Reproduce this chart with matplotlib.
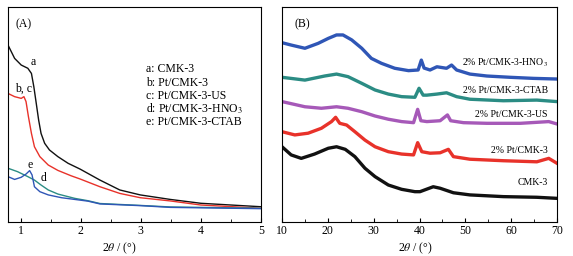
import matplotlib
matplotlib.use("Agg")
import matplotlib.pyplot as plt
from matplotlib.ticker import MultipleLocator

plt.rcParams['font.family'] = ['Liberation Serif', 'DejaVu Serif']
plt.rcParams['mathtext.fontset'] = 'stix'

# ---------- Panel A data (low-angle XRD) ----------
a_x = [0.79, 0.90, 1.01, 1.12, 1.18, 1.22, 1.26, 1.30, 1.34, 1.40, 1.48, 1.62, 1.79, 1.99, 2.32, 2.65, 2.99, 3.49, 4.0, 5.0]
a_y = [82.3, 76.1, 73.0, 71.5, 69.1, 62.9, 55.2, 47.4, 41.2, 36.6, 33.5, 30.4, 27.3, 24.6, 19.5, 14.9, 12.6, 10.5, 8.7, 7.1]

b_x = [0.79, 0.90, 1.01, 1.055, 1.09, 1.13, 1.18, 1.23, 1.32, 1.46, 1.62, 1.84, 1.99, 2.32, 2.65, 2.99, 3.49, 4.0, 5.0]
b_y = [59.8, 58.3, 57.5, 58.3, 56.0, 49.0, 41.2, 35.0, 30.4, 26.5, 24.0, 21.5, 20.0, 16.4, 13.3, 11.3, 9.8, 7.9, 6.4]

d_x = [0.79, 0.90, 1.01, 1.09, 1.15, 1.19, 1.23, 1.32, 1.46, 1.68, 2.12, 2.32, 3.0, 3.49, 4.0, 5.0]
d_y = [21.1, 19.8, 20.8, 22.3, 23.9, 21.9, 16.4, 14.1, 12.6, 11.3, 9.7, 8.4, 7.6, 6.8, 6.6, 6.2]

e_x = [0.79, 0.95, 1.12, 1.23, 1.34, 1.46, 1.62, 1.90, 2.12, 2.32, 3.0, 3.49, 4.0, 5.0]
e_y = [25.0, 23.4, 21.1, 19.5, 17.2, 14.9, 13.0, 11.0, 9.9, 8.6, 7.7, 7.0, 6.8, 6.4]

legend_a = ["a: CMK-3", "b: Pt/CMK-3", "c: Pt/CMK-3-US",
            "d: Pt/CMK-3-HNO$_3$", "e: Pt/CMK-3-CTAB"]

# ---------- Panel B data (wide-angle XRD, offset) ----------
hno3_x = [10, 12, 15, 17.9, 20.1, 21.9, 23.3, 25.2, 27.4, 29.5, 31.7, 34.6, 37.6, 39.7, 40.4, 41.0, 42.3, 43.8, 45.9, 47.0, 48.1, 51, 54.7, 59.8, 64.9, 70]
hno3_y = [83.4, 82.3, 80.8, 83.1, 85.4, 87.0, 87.0, 84.7, 80.8, 76.1, 73.8, 71.5, 70.4, 70.7, 75.3, 71.6, 70.7, 72.2, 71.5, 73.0, 70.7, 68.8, 67.9, 67.3, 66.8, 66.5]

ctab_x = [10, 15, 19.3, 21.9, 24.4, 27.4, 30.3, 33.2, 36.1, 39.0, 39.9, 40.8, 41.6, 43.8, 45.9, 48.1, 51, 58.3, 65.6, 70]
ctab_y = [67.3, 66.0, 67.9, 68.8, 67.6, 64.5, 61.4, 59.5, 58.3, 58.0, 62.2, 59.0, 59.0, 59.5, 60.1, 58.3, 57.1, 56.4, 56.7, 56.0]

us_x = [10, 15, 18.6, 21.9, 24.4, 27.4, 30.3, 33.2, 36.1, 38.7, 39.6, 40.3, 41.6, 44.5, 46.1, 46.8, 49.6, 54.7, 62, 68.2, 70]
us_y = [56.0, 53.6, 52.9, 53.6, 52.9, 51.3, 49.3, 47.8, 46.7, 46.2, 52.4, 47.1, 46.7, 47.1, 49.8, 47.1, 46.2, 45.9, 45.9, 46.7, 45.6]

pt_x = [10, 12.8, 15.7, 18.6, 20.8, 21.7, 22.6, 24.1, 25.9, 28.1, 30.3, 33.2, 36.1, 38.7, 39.6, 40.5, 42.3, 44.5, 46.3, 47.4, 51, 58.3, 65.6, 68.2, 70]
pt_y = [42.0, 40.5, 41.3, 43.6, 46.7, 48.7, 45.9, 45.1, 42.0, 38.1, 35.0, 32.7, 31.6, 31.2, 36.9, 32.7, 32.0, 32.2, 33.8, 30.4, 29.2, 28.5, 28.0, 29.6, 27.3]

cmk_x = [10, 12, 14.2, 17.1, 20.1, 21.9, 23.8, 25.9, 28.1, 30.3, 33.2, 36.1, 39.0, 40.1, 43.0, 44.5, 47.4, 51, 58.3, 65.6, 70]
cmk_y = [35.0, 31.2, 29.6, 31.6, 34.3, 35.0, 33.8, 30.4, 25.0, 21.1, 17.2, 15.2, 14.1, 14.1, 16.4, 15.7, 13.6, 12.6, 11.8, 11.5, 11.0]

labels_b = ["2% Pt/CMK-3-HNO$_3$", "2% Pt/CMK-3-CTAB", "2% Pt/CMK-3-US",
            "2% Pt/CMK-3", "CMK-3"]

fig = plt.figure(figsize=(5.73, 2.56), dpi=100)
axA = fig.add_axes([8/573, 34/256, 253/573, 215/256])
axB = fig.add_axes([282/573, 34/256, 275/573, 215/256])

fs = 8.5
BLACK = '#111111'
RED = '#e8322a'
BLUE = '#2f56b6'
TEAL = '#2b8c84'
PURPLE = '#a659b8'

# Panel A
axA.plot(a_x, a_y, color=BLACK, lw=1.0)
axA.plot(b_x, b_y, color=RED, lw=1.0)
axA.plot(e_x, e_y, color=TEAL, lw=1.0)
axA.plot(d_x, d_y, color=BLUE, lw=1.0)
axA.set_xlim(0.79, 5)
axA.set_ylim(0, 100)
axA.set_yticks([])
axA.xaxis.set_major_locator(MultipleLocator(1))
axA.xaxis.set_minor_locator(MultipleLocator(0.5))
axA.tick_params(axis='x', which='major', direction='in', length=3, labelsize=fs, pad=2)
axA.tick_params(axis='x', which='minor', direction='in', length=2)
axA.text(0.03, 0.92, "(A)", transform=axA.transAxes, fontsize=fs, va='center', ha='left')
axA.text(1.205, 74.3, "a", fontsize=fs, ha='center', va='center')
axA.text(1.05, 61.8, "b, c", fontsize=fs, ha='center', va='center')
axA.text(1.15, 26.6, "e", fontsize=fs, ha='center', va='center')
axA.text(1.38, 20.3, "d", fontsize=fs, ha='center', va='center')
for i, t in enumerate(legend_a):
    axA.text(0.547, 0.71 - i * 0.0615, t, transform=axA.transAxes, fontsize=fs, ha='left', va='center')
axA.set_xlabel(r"2$\theta$ / (°)", fontsize=fs)
axA.xaxis.set_label_coords(0.44, -0.085)

# Panel B
lwB = 2.4
axB.plot(hno3_x, hno3_y, color=BLUE, lw=lwB)
axB.plot(ctab_x, ctab_y, color=TEAL, lw=lwB)
axB.plot(us_x, us_y, color=PURPLE, lw=lwB)
axB.plot(pt_x, pt_y, color=RED, lw=lwB)
axB.plot(cmk_x, cmk_y, color=BLACK, lw=lwB)
axB.set_xlim(10, 70)
axB.set_ylim(0, 100)
axB.set_yticks([])
axB.xaxis.set_major_locator(MultipleLocator(10))
axB.xaxis.set_minor_locator(MultipleLocator(5))
axB.tick_params(axis='x', which='major', direction='in', length=3, labelsize=fs, pad=2)
axB.tick_params(axis='x', which='minor', direction='in', length=2)
axB.text(0.045, 0.92, "(B)", transform=axB.transAxes, fontsize=fs, va='center', ha='left')
label_y = [74.0, 61.0, 49.8, 33.2, 18.3]
for t, yy in zip(labels_b, label_y):
    axB.text(0.967, yy, t, transform=axB.get_yaxis_transform(), fontsize=7, ha='right', va='center')
axB.set_xlabel(r"2$\theta$ / (°)", fontsize=fs)
axB.xaxis.set_label_coords(0.485, -0.085)

for ax in (axA, axB):
    for s in ax.spines.values():
        s.set_linewidth(0.8)

fig.savefig("out.png", dpi=100)
